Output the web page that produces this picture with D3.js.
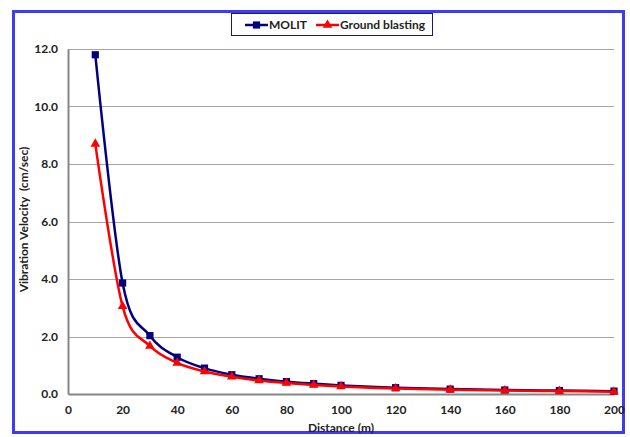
<!DOCTYPE html>
<html>
<head>
<meta charset="utf-8">
<script src="https://cdn.jsdelivr.net/npm/d3@7"></script>
<style>
  body { margin: 0; background: #fff; }
  svg { display: block; font-family: Lato, "Open Sans", sans-serif; }
  .tick text { font-family: Lato, "Open Sans", sans-serif; font-size: 12px; font-weight: bold; fill: #222; }
</style>
</head>
<body>
<div id="chart"></div>
<script>
// distances (m)
const distance = [10, 20, 30, 40, 50, 60, 70, 80, 90, 100, 120, 140, 160, 180, 200];
// vibration velocity (cm/sec)
const molit = [11.8, 3.86, 2.03, 1.28, 0.9, 0.67, 0.53, 0.43, 0.36, 0.3, 0.22, 0.17, 0.14, 0.12, 0.1];
const groundBlasting = [8.7, 3.05, 1.67, 1.08, 0.78, 0.6, 0.47, 0.38, 0.31, 0.26, 0.19, 0.15, 0.12, 0.1, 0.08];
const xTicks = [0, 20, 40, 60, 80, 100, 120, 140, 160, 180, 200];
const yTicks = [0, 2, 4, 6, 8, 10, 12];

const W = 630, H = 437;
const margin = { top: 49, right: 16, bottom: 43, left: 68 };
const width = W - margin.left - margin.right;
const height = H - margin.top - margin.bottom;

const svg = d3.select('#chart').append('svg')
  .attr('width', W)
  .attr('height', H);

// outer blue frame
svg.append('rect')
  .attr('x', 13.5).attr('y', 11.5)
  .attr('width', 610).attr('height', 421)
  .attr('fill', 'none')
  .attr('stroke', '#3c3cf2')
  .attr('stroke-width', 3);

const g = svg.append('g').attr('transform', `translate(${margin.left},${margin.top})`);

const x = d3.scaleLinear().domain([0, 200]).range([0, width]);
const y = d3.scaleLinear().domain([0, 12]).range([height, 0]);

// gridlines
g.selectAll('.grid')
  .data(yTicks.filter(d => d > 0))
  .enter().append('line')
  .attr('class', 'grid')
  .attr('x1', 0).attr('x2', width)
  .attr('y1', d => Math.round(y(d)) + 0.5)
  .attr('y2', d => Math.round(y(d)) + 0.5)
  .attr('stroke', '#a6a6a6')
  .attr('stroke-width', 1);

const xAxis = g.append('g')
  .attr('transform', `translate(0,${height})`)
  .call(d3.axisBottom(x).tickValues(xTicks).tickSize(0).tickPadding(11).tickFormat(d3.format('d')));
xAxis.select('.domain').attr('stroke', '#868686').attr('stroke-width', 2);

const yAxis = g.append('g')
  .call(d3.axisLeft(y).tickValues(yTicks).tickSize(0).tickPadding(10).tickFormat(d3.format('.1f')));
yAxis.select('.domain').attr('stroke', '#868686').attr('stroke-width', 2);

// axis titles
svg.append('text')
  .attr('x', margin.left + width / 2)
  .attr('y', 432)
  .attr('text-anchor', 'middle')
  .attr('font-size', 12)
  .attr('font-weight', 'bold')
  .attr('fill', '#222')
  .text('Distance (m)');

svg.append('text')
  .attr('transform', `translate(28,${margin.top + height / 2 - 2}) rotate(-90)`)
  .attr('text-anchor', 'middle')
  .attr('font-size', 12)
  .attr('font-weight', 'bold')
  .attr('fill', '#222')
  .attr('xml:space', 'preserve')
  .text('Vibration Velocity  (cm/sec)');

const line = d3.line()
  .x(d => x(d[0]))
  .y(d => y(d[1]))
  .curve(d3.curveCatmullRom.alpha(0));

const series = [
  { name: 'MOLIT', values: molit, color: '#000080', symbol: d3.symbolSquare, size: 52 },
  { name: 'Ground blasting', values: groundBlasting, color: '#ff0000', symbol: d3.symbolTriangle, size: 40 },
];

series.forEach(s => {
  const pts = distance.map((d, i) => [d, s.values[i]]);
  g.append('path')
    .datum(pts)
    .attr('fill', 'none')
    .attr('stroke', s.color)
    .attr('stroke-width', 2.5)
    .attr('d', line);
  g.selectAll(null)
    .data(pts)
    .enter().append('path')
    .attr('transform', d => `translate(${x(d[0])},${y(d[1])})`)
    .attr('d', d3.symbol().type(s.symbol).size(s.size))
    .attr('fill', s.color);
});

// legend
const legend = svg.append('g');
legend.append('rect')
  .attr('x', 231.5).attr('y', 13.5)
  .attr('width', 201).attr('height', 22)
  .attr('fill', '#fff')
  .attr('stroke', '#1a1a6e')
  .attr('stroke-width', 1);

const legendItems = [
  { s: series[0], x: 245 },
  { s: series[1], x: 316 },
];
legendItems.forEach(it => {
  legend.append('line')
    .attr('x1', it.x).attr('x2', it.x + 23)
    .attr('y1', 25).attr('y2', 25)
    .attr('stroke', it.s.color).attr('stroke-width', 2.5);
  legend.append('path')
    .attr('transform', `translate(${it.x + 11.5},25)`)
    .attr('d', d3.symbol().type(it.s.symbol).size(it.s.size))
    .attr('fill', it.s.color);
  legend.append('text')
    .attr('x', it.x + 24).attr('y', 29)
    .attr('font-size', 12)
    .attr('font-weight', 'bold')
    .attr('fill', '#222')
    .text(it.s.name);
});
</script>
</body>
</html>
